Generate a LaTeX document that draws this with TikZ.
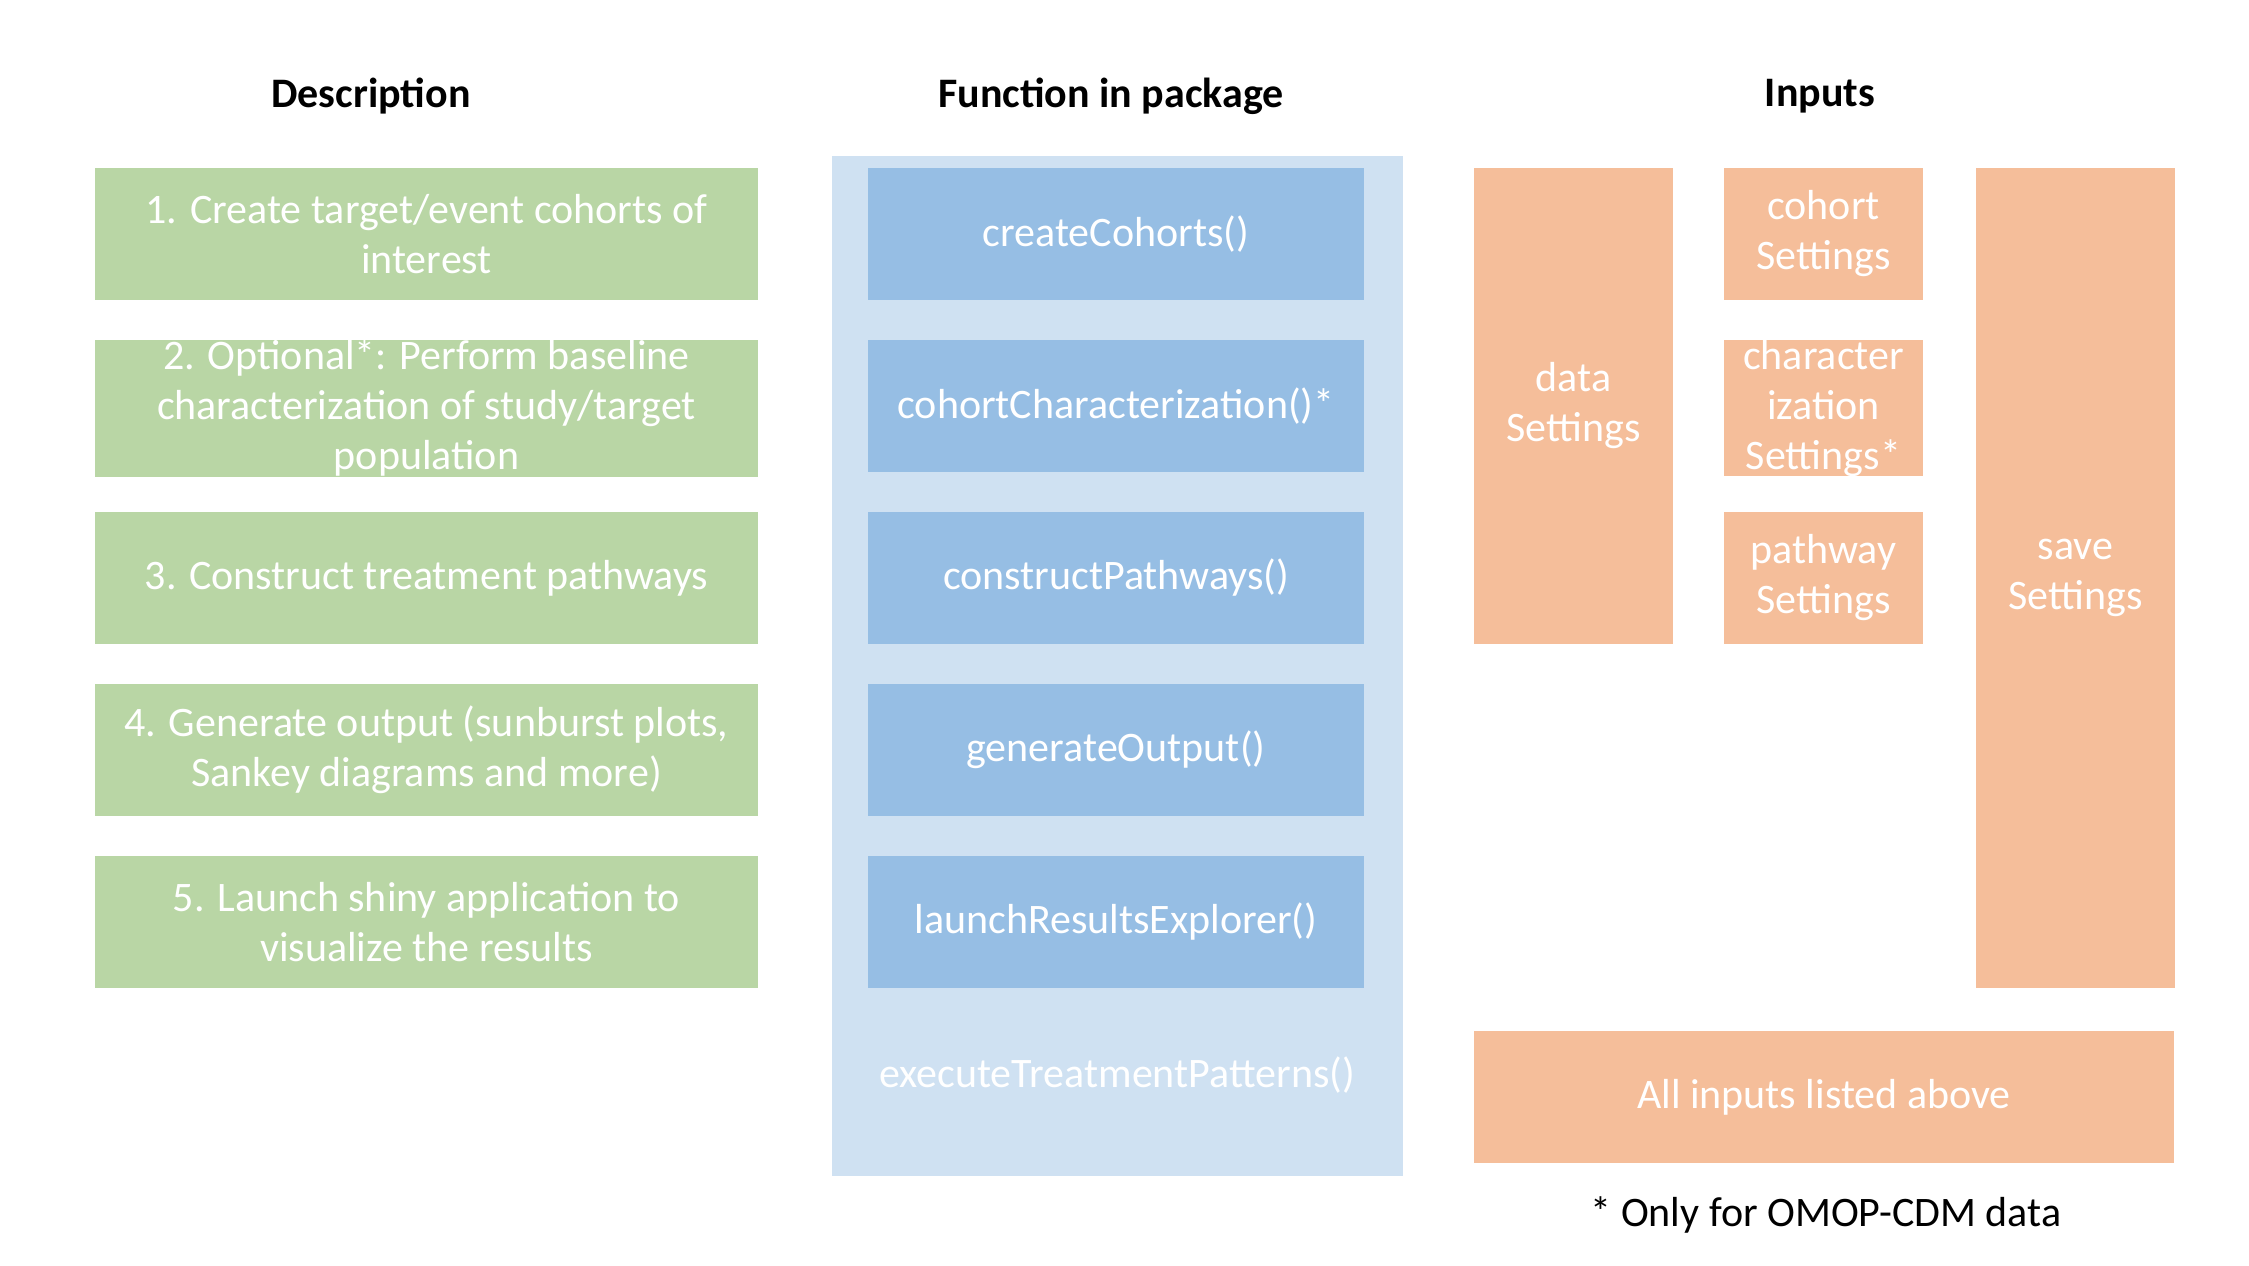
\documentclass[tikz,border=0pt]{standalone}
\usepackage{fontspec}
\setmainfont{Carlito}
\definecolor{gfill}{HTML}{B9D6A5}
\definecolor{bfill}{HTML}{96BEE4}
\definecolor{bgfill}{HTML}{CFE1F2}
\definecolor{ofill}{HTML}{F5BE9A}
\begin{document}
\begin{tikzpicture}[x=0.5pt,y=-0.5pt,
  box/.style={anchor=north west,inner sep=0pt,outer sep=0pt,align=center,text=white,
    font=\fontsize{21}{25}\selectfont},
  gbox/.style={box,fill=gfill,minimum width=331.5pt,minimum height=66pt},
  bbox/.style={box,fill=bfill,minimum width=248pt,minimum height=66pt},
  obox/.style={box,fill=ofill,minimum width=99.5pt},
  head/.style={font=\fontsize{21}{25}\selectfont\bfseries,text=black,inner sep=0pt}]
\useasboundingbox (0,0) rectangle (2249,1265);
% headings
\node[head] (h1) at (371,96) {Description};
\node[head] (h2) at (1111,96) {Function in package};
\node[head] (h3) at (1820,96) {Inputs};
% description column
\node[gbox] (g1) at (95,168) {1. Create target/event cohorts of\\interest};
\node[gbox] (g2) at (95,340) {2. Optional*: Perform baseline\\characterization of study/target\\population};
\node[gbox] (g3) at (95,512) {3. Construct treatment pathways};
\node[gbox] (g4) at (95,684) {4. Generate output (sunburst plots,\\Sankey diagrams and more)};
\node[gbox] (g5) at (95,856) {5. Launch shiny application to\\visualize the results};
% function column
\node[anchor=north west,inner sep=0pt,fill=bgfill,minimum width=285.5pt,minimum height=510pt] (bg) at (832,156) {};
\node[bbox] (b1) at (868,168) {createCohorts()};
\node[bbox] (b2) at (868,340) {cohortCharacterization()*};
\node[bbox] (b3) at (868,512) {constructPathways()};
\node[bbox] (b4) at (868,684) {generateOutput()};
\node[bbox] (b5) at (868,856) {launchResultsExplorer()};
\node[box,anchor=center] (ex) at (1117,1075) {executeTreatmentPatterns()};
% inputs column
\node[obox,minimum height=238pt] (od) at (1474,168) {data\\Settings};
\node[obox,minimum height=66pt] (oc) at (1724,168) {cohort\\Settings};
\node[obox,minimum height=66pt] (och) at (1724,340) {character\\ization\\Settings*};
\node[obox,minimum height=66pt] (op) at (1724,512) {pathway\\Settings};
\node[obox,minimum height=410pt] (os) at (1976,168) {save\\Settings};
\node[box,fill=ofill,minimum width=350pt,minimum height=66pt] (oa) at (1474,1031) {All inputs listed above};
\node[font=\fontsize{21}{25}\selectfont,text=black,inner sep=0pt] (fn) at (1826,1215) {* Only for OMOP-CDM data};
\end{tikzpicture}
\end{document}
